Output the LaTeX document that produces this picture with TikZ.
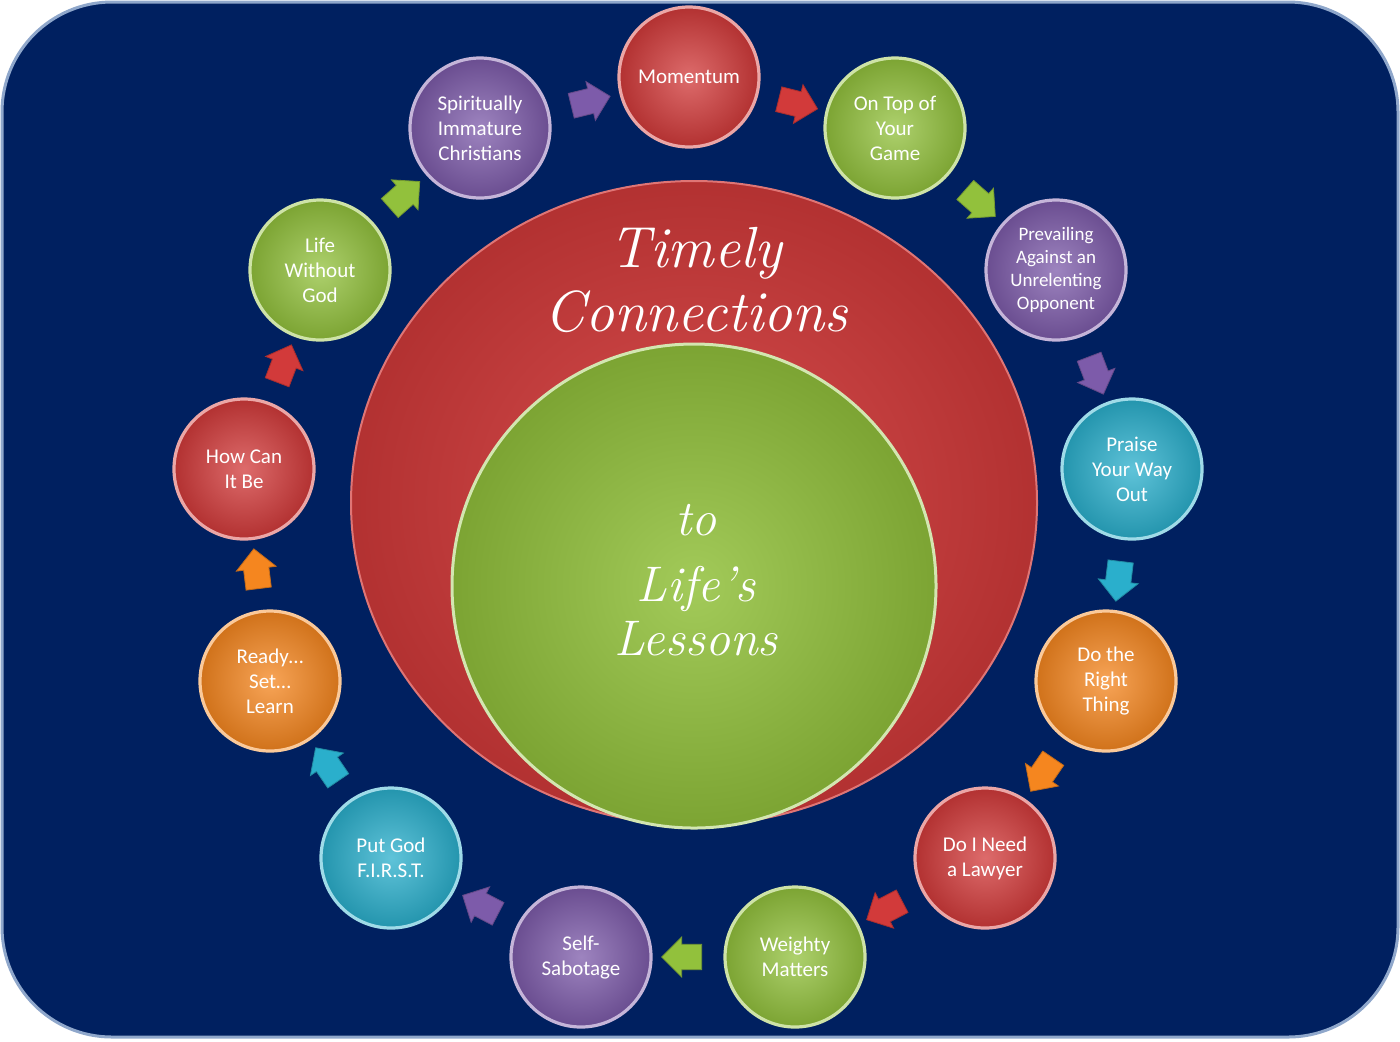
\documentclass[tikz,border=0pt]{standalone}
\usepackage{fontspec}
\setmainfont{Carlito}
\newfontfamily\titlefont{Latin Modern Roman}
\usetikzlibrary{shapes.arrows,shapes.geometric,calc}
\definecolor{navy}{HTML}{002060}
\definecolor{rimblue}{HTML}{8FA7CB}
\definecolor{cred}{HTML}{D23A3A}
\definecolor{cgreen}{HTML}{92C13C}
\definecolor{cpurple}{HTML}{7D5BAA}
\definecolor{cblue}{HTML}{2AAFCC}
\definecolor{corange}{HTML}{F5861F}
\tikzset{
  topic/.style={circle,minimum size=70pt,inner sep=0pt,align=center,text=white,
    font=\fontsize{10.5}{12.5}\selectfont,draw=#1!45!white,line width=1.6pt,
    inner color=#1!75!white,outer color=#1!85!black},
  blockarr/.style={single arrow,minimum height=20pt,minimum width=20pt,
    single arrow head extend=3pt,inner sep=5pt,fill=#1,draw=#1!80!black,line width=0.4pt},
}
\begin{document}
\begin{tikzpicture}[x=0.5pt,y=-0.5pt]
\useasboundingbox (0,0) rectangle (1400,1041);
%Background
\draw[fill=navy,draw=rimblue,line width=1.5pt,rounded corners=55pt] (2,2) rectangle (1398,1037);
%Centre circles
\node[ellipse,minimum width=343pt,minimum height=322pt,inner sep=0pt,draw=cred!70!white,line width=1pt,
  inner color=cred!90!white,outer color=cred!85!black] (outer) at (694,503) {};
\node[circle,minimum size=242pt,inner sep=0pt,draw=cgreen!40!white,line width=1.5pt,
  inner color=cgreen!85!white,outer color=cgreen!85!black] (inner) at (694,586) {};
\node[text=white,font=\fontsize{29}{32}\selectfont\titlefont\itshape,align=center] (title) at (696,280)
  {Timely\\Connections};
\node[text=white,font=\fontsize{25}{27}\selectfont\titlefont\itshape,align=center] (sub) at (696,580)
  {to\\[6pt]Life’s\\Lessons};
%Topics
\node[topic=cred]    (c1)  at (689,77)  {Momentum};
\node[topic=cgreen]  (c2)  at (895,128) {On Top of\\Your\\Game};
\node[topic=cpurple,font=\fontsize{9.5}{11.5}\selectfont] (c3) at (1056,270) {Prevailing\\Against an\\Unrelenting\\Opponent};
\node[topic=cblue]   (c4)  at (1132,469) {Praise\\Your Way\\Out};
\node[topic=corange] (c5)  at (1106,681) {Do the\\Right\\Thing};
\node[topic=cred]    (c6)  at (985,858) {Do I Need\\a Lawyer};
\node[topic=cgreen]  (c7)  at (795,957) {Weighty\\Matters};
\node[topic=cpurple] (c8)  at (581,957) {Self-\\Sabotage};
\node[topic=cblue]   (c9)  at (391,858) {Put God\\F.I.R.S.T.};
\node[topic=corange] (c10) at (270,681) {Ready…\\Set…\\Learn};
\node[topic=cred]    (c11) at (244,469) {How Can\\It Be};
\node[topic=cgreen]  (c12) at (320,270) {Life\\Without\\God};
\node[topic=cpurple] (c13) at (480,128) {Spiritually\\Immature\\Christians};
%Arrows between topics
\foreach \a/\b/\col in {c1/c2/cred,c2/c3/cgreen,c3/c4/cpurple,c4/c5/cblue,c5/c6/corange,
  c6/c7/cred,c7/c8/cgreen,c8/c9/cpurple,c9/c10/cblue,c10/c11/corange,c11/c12/cred,
  c12/c13/cgreen,c13/c1/cpurple} {
  \path let \p1=($(\b)-(\a)$), \n1={atan2(\y1,\x1)} in
    node[blockarr=\col,rotate=\n1] (arr-\a) at ($(\a)!0.5!(\b)$) {};
}
\end{tikzpicture}
\end{document}
